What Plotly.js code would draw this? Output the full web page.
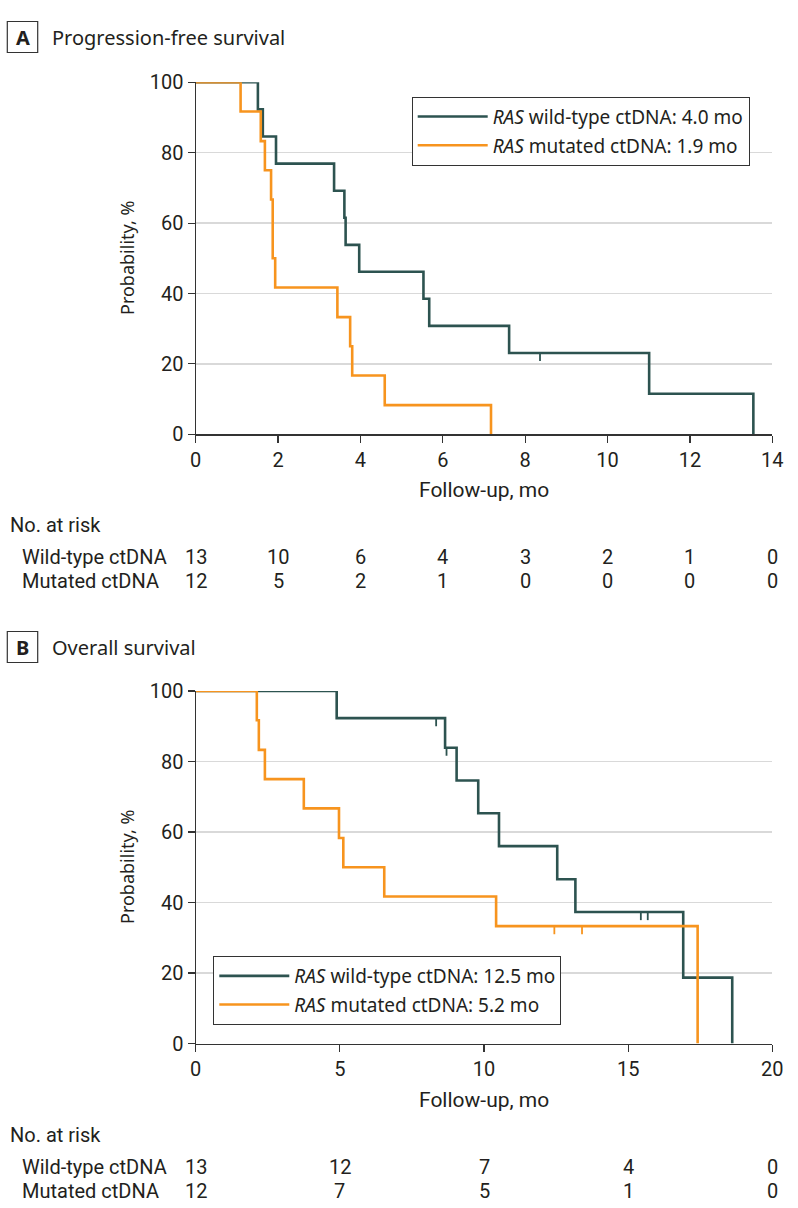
<!DOCTYPE html>
<html><head><meta charset="utf-8">
<script src="https://cdn.plot.ly/plotly-3.0.1.min.js"></script>
<style>html,body{margin:0;padding:0;background:#fff}#chart{width:798px;height:1208px}</style>
</head><body><div id="chart"></div>
<script>
// ---------- Panel A: progression-free survival (Kaplan-Meier steps) ----------
const pfsWtTime = [0, 1.51, 1.63, 1.95, 3.36, 3.61, 3.64, 3.97, 5.53, 5.67, 7.61, 11.01, 13.54];
const pfsWtSurv = [100, 92.3, 84.6, 76.9, 69.2, 61.5, 53.8, 46.2, 38.5, 30.8, 23.1, 11.5, 0];
const pfsWtCensorTime = [8.36];
const pfsWtCensorSurv = [23.1];
const pfsMutTime = [0, 1.09, 1.58, 1.68, 1.83, 1.87, 1.93, 3.44, 3.75, 3.80, 4.59, 7.17];
const pfsMutSurv = [100, 91.7, 83.3, 75.0, 66.7, 50.0, 41.7, 33.3, 25.0, 16.7, 8.3, 0];
const pfsNames = ['<i>RAS</i> wild-type ctDNA: 4.0 mo', '<i>RAS</i> mutated ctDNA: 1.9 mo'];
const pfsRiskTimes = [0, 2, 4, 6, 8, 10, 12, 14];
const pfsRiskWt = [13, 10, 6, 4, 3, 2, 1, 0];
const pfsRiskMut = [12, 5, 2, 1, 0, 0, 0, 0];

// ---------- Panel B: overall survival ----------
const osWtTime = [0, 4.89, 8.65, 9.05, 9.80, 10.52, 12.54, 13.17, 16.91, 18.61];
const osWtSurv = [100, 92.3, 83.9, 74.6, 65.3, 56.0, 46.6, 37.3, 18.7, 0];
const osWtCensorTime = [8.34, 8.70, 15.44, 15.68];
const osWtCensorSurv = [92.3, 83.9, 37.3, 37.3];
const osMutTime = [0, 2.12, 2.19, 2.40, 3.75, 4.97, 5.12, 6.54, 10.42, 17.41];
const osMutSurv = [100, 91.7, 83.3, 75.0, 66.7, 58.3, 50.0, 41.7, 33.3, 0];
const osMutCensorTime = [12.44, 13.40];
const osMutCensorSurv = [33.3, 33.3];
const osNames = ['<i>RAS</i> wild-type ctDNA: 12.5 mo', '<i>RAS</i> mutated ctDNA: 5.2 mo'];
const osRiskTimes = [0, 5, 10, 15, 20];
const osRiskWt = [13, 12, 7, 4, 0];
const osRiskMut = [12, 7, 5, 1, 0];

const rowLabels = ['Wild-type ctDNA', 'Mutated ctDNA'];
const panelTitles = ['Progression-free survival', 'Overall survival'];

// ---------- styling ----------
const W = 798, H = 1208;
const px = v => v / W;
const py = v => 1 - v / H;
const WT = '#2D5350', MUT = '#F7941E', INK = '#231F20', AX = '#333333';
const COND = 'Roboto, Liberation Sans, sans-serif';
const CS = 20;
const REG = 'Noto Sans, Open Sans, sans-serif';

function curve(x, y, name, color, xa, ya, lg) {
  return {x, y, name, type: 'scatter', mode: 'lines', line: {shape: 'hv', color, width: 2.6},
          xaxis: xa, yaxis: ya, legend: lg, legendgroup: name, cliponaxis: false, hoverinfo: 'skip'};
}
function censor(x, y, color, xa, ya) {
  return {x, y, type: 'scatter', mode: 'markers', marker: {opacity: 0, size: 2, color},
          error_y: {type: 'data', symmetric: false, array: x.map(() => 0), arrayminus: x.map(() => 2.3),
                    width: 0, thickness: 1.8, color},
          xaxis: xa, yaxis: ya, showlegend: false, cliponaxis: false, hoverinfo: 'skip'};
}

const traces = [
  curve(pfsWtTime, pfsWtSurv, pfsNames[0], WT, 'x', 'y', 'legend'),
  curve(pfsMutTime, pfsMutSurv, pfsNames[1], MUT, 'x', 'y', 'legend'),
  censor(pfsWtCensorTime, pfsWtCensorSurv, WT, 'x', 'y'),
  curve(osWtTime, osWtSurv, osNames[0], WT, 'x2', 'y2', 'legend2'),
  curve(osMutTime, osMutSurv, osNames[1], MUT, 'x2', 'y2', 'legend2'),
  censor(osWtCensorTime, osWtCensorSurv, WT, 'x2', 'y2'),
  censor(osMutCensorTime, osMutCensorSurv, MUT, 'x2', 'y2')
];

const xDom = [px(195.7), px(772.3)];
function xAxis(range, dtick, anchor) {
  return {domain: xDom, range, dtick, tick0: 0, anchor, showline: true, linecolor: AX, linewidth: 1.2,
          ticks: 'outside', ticklen: 7, tickwidth: 1.2, tickcolor: AX, showgrid: false, zeroline: false,
          tickfont: {family: COND, size: CS, color: INK}, fixedrange: true};
}
function yAxis(top, bottom, anchor) {
  return {domain: [py(bottom), py(top)], range: [0, 100], dtick: 20, anchor, showline: true, linecolor: AX,
          linewidth: 1.2, ticks: 'outside', ticklen: 7, tickwidth: 1.2, tickcolor: AX,
          showgrid: true, gridcolor: '#D9D9D9', gridwidth: 1.5, zeroline: false,
          tickfont: {family: COND, size: CS, color: INK}, fixedrange: true};
}
function legend(left, top) {
  return {x: px(left), y: py(top), xanchor: 'left', yanchor: 'top', bgcolor: '#fff', bordercolor: AX,
          borderwidth: 1, font: {family: REG, size: 19, color: INK}, itemwidth: 70, tracegroupgap: 1,
          traceorder: 'grouped', itemclick: false, itemdoubleclick: false};
}

const annotations = [], shapes = [];
function panel(letter, title, titleY, axisBottom, riskAxis, times, wt, mut, plotMid) {
  shapes.push({type: 'rect', xref: 'paper', yref: 'paper', x0: px(7.3), x1: px(37.7),
               y0: py(titleY + 15.5), y1: py(titleY - 15.5), line: {color: AX, width: 1.2}});
  annotations.push({xref: 'paper', yref: 'paper', x: px(22.5), y: py(titleY), text: '<b>' + letter + '</b>',
                    showarrow: false, xanchor: 'center', yanchor: 'middle', font: {family: REG, size: 20, color: INK}});
  annotations.push({xref: 'paper', yref: 'paper', x: px(50), y: py(titleY), text: title, showarrow: false,
                    xanchor: 'left', yanchor: 'middle', font: {family: REG, size: 20, color: INK}});
  annotations.push({xref: 'paper', yref: 'paper', x: px(127), y: py(plotMid), text: 'Probability, %', textangle: -90,
                    showarrow: false, xanchor: 'center', yanchor: 'middle', font: {family: REG, size: 18, color: INK}});
  annotations.push({xref: 'paper', yref: 'paper', x: (xDom[0] + xDom[1]) / 2, y: py(axisBottom + 56), text: 'Follow-up, mo',
                    showarrow: false, xanchor: 'center', yanchor: 'middle', font: {family: COND, size: 21, color: INK}});
  annotations.push({xref: 'paper', yref: 'paper', x: px(8), y: py(axisBottom + 91), text: 'No. at risk',
                    showarrow: false, xanchor: 'left', yanchor: 'middle', font: {family: COND, size: CS, color: INK}});
  [wt, mut].forEach((row, r) => {
    const yy = py(axisBottom + 123 + r * 24);
    annotations.push({xref: 'paper', yref: 'paper', x: px(20), y: yy, text: rowLabels[r], showarrow: false,
                      xanchor: 'left', yanchor: 'middle', font: {family: COND, size: CS, color: INK}});
    row.forEach((n, i) => annotations.push({xref: riskAxis, yref: 'paper', x: times[i], y: yy, text: String(n),
                      showarrow: false, xanchor: 'center', yanchor: 'middle', font: {family: COND, size: CS, color: INK}}));
  });
}
panel('A', panelTitles[0], 37, 434.3, 'x', pfsRiskTimes, pfsRiskWt, pfsRiskMut, 258);
panel('B', panelTitles[1], 647, 1043.5, 'x2', osRiskTimes, osRiskWt, osRiskMut, 867);

const layout = {
  width: W, height: H, margin: {l: 0, r: 0, t: 0, b: 0}, paper_bgcolor: '#fff', plot_bgcolor: '#fff',
  xaxis: xAxis([0, 14], 2, 'y'),
  yaxis: yAxis(82.3, 434.3, 'x'),
  xaxis2: xAxis([0, 20], 5, 'y2'),
  yaxis2: yAxis(691, 1043.5, 'x2'),
  legend: legend(411.7, 96.7),
  legend2: legend(213.3, 956),
  showlegend: true, annotations, shapes, hovermode: false
};
Plotly.newPlot('chart', traces, layout, {displayModeBar: false, staticPlot: true});
</script></body></html>
